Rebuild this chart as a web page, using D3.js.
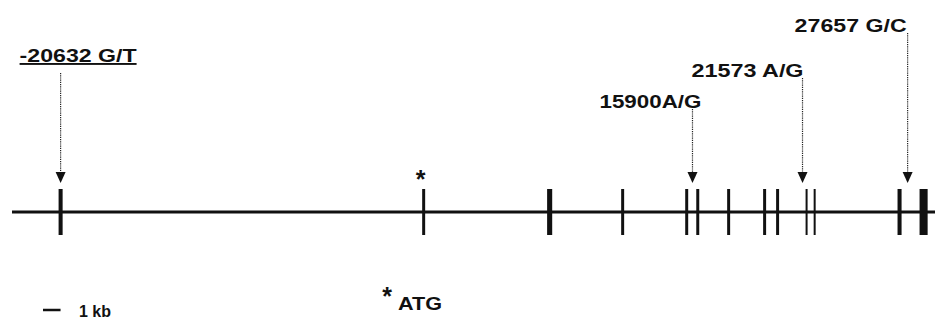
<!DOCTYPE html>
<html>
<head>
<meta charset="utf-8">
<script src="https://cdn.jsdelivr.net/npm/d3@7"></script>
<style>
  body { margin: 0; background: #fff; }
  svg { display: block; }
  text { font-family: "Liberation Sans", Arial, sans-serif; font-weight: bold; fill: #111; }
</style>
</head>
<body>
<svg id="gene" width="935" height="320"></svg>
<script>
// gene span in kb, relative to ATG
let geneSpan = [-23.4, 29.2];
// exon centres (kb) and widths (kb)
let exonPos = [-20.63, 0.06, 7.24, 11.40, 15.05, 15.68, 17.44, 19.49, 20.23, 21.88, 22.34, 27.18, 28.55];
let exonLen = [0.23, 0.17, 0.29, 0.17, 0.17, 0.17, 0.17, 0.17, 0.17, 0.11, 0.11, 0.23, 0.46];
// polymorphisms
let snpLabels = ["-20632 G/T", "15900A/G", "21573 A/G", "27657 G/C"];
let snpPos = [-20.63, 15.38, 21.65, 27.64];
let atgPos = 0.0;
let scaleBarKb = 1;

let width = 935;
let lineY = 212;

let x = d3.scaleLinear().domain(geneSpan).range([12, width]);

let svg = d3.select("#gene");

// label layout: baseline y, text length and offset of text start from arrow
let labelLayout = [
  { y: 62, len: 117, dx: -41, underline: true },
  { y: 108, len: 102, dx: -93 },
  { y: 77, len: 112, dx: -111 },
  { y: 32, len: 112, dx: -113 }
];

// backbone
svg.append("line")
  .attr("x1", x(geneSpan[0])).attr("x2", x(geneSpan[1]))
  .attr("y1", lineY).attr("y2", lineY)
  .attr("stroke", "#111").attr("stroke-width", 2.8);

// exons
svg.append("g").selectAll("rect")
  .data(exonPos)
  .join("rect")
  .attr("x", (d, i) => x(d - exonLen[i] / 2))
  .attr("width", (d, i) => Math.max(2, x(d + exonLen[i] / 2) - x(d - exonLen[i] / 2)))
  .attr("y", 189)
  .attr("height", 46)
  .attr("fill", "#111");

// snp arrows
let snp = svg.append("g").selectAll("g")
  .data(snpLabels)
  .join("g");

snp.append("line")
  .attr("x1", (d, i) => x(snpPos[i]))
  .attr("x2", (d, i) => x(snpPos[i]))
  .attr("y1", (d, i) => labelLayout[i].y + (i === 0 ? 11 : 1))
  .attr("y2", 172)
  .attr("stroke", "#222")
  .attr("stroke-width", 1.2)
  .attr("stroke-dasharray", "1.2,1");

snp.append("path")
  .attr("d", (d, i) => {
    let cx = x(snpPos[i]);
    return `M${cx - 5},172 L${cx + 5},172 L${cx},183 Z`;
  })
  .attr("fill", "#111");

snp.append("text")
  .attr("x", (d, i) => x(snpPos[i]) + labelLayout[i].dx)
  .attr("y", (d, i) => labelLayout[i].y)
  .attr("font-size", 19)
  .attr("textLength", (d, i) => labelLayout[i].len)
  .attr("lengthAdjust", "spacingAndGlyphs")
  .attr("text-decoration", (d, i) => labelLayout[i].underline ? "underline" : null)
  .text(d => d);

// ATG star
svg.append("text")
  .attr("x", x(atgPos) - 2)
  .attr("y", 188)
  .attr("text-anchor", "middle")
  .attr("font-size", 25)
  .text("*");

// legend: scale bar
svg.append("line")
  .attr("x1", 43).attr("x2", 43 + x(scaleBarKb) - x(0))
  .attr("y1", 310).attr("y2", 310)
  .attr("stroke", "#111").attr("stroke-width", 2.5);
svg.append("text")
  .attr("x", 79).attr("y", 317)
  .attr("font-size", 16)
  .text(scaleBarKb + " kb");

// legend: ATG
svg.append("text")
  .attr("x", 387).attr("y", 305)
  .attr("text-anchor", "middle")
  .attr("font-size", 25)
  .text("*");
svg.append("text")
  .attr("x", 398).attr("y", 310)
  .attr("font-size", 18)
  .attr("textLength", 44)
  .attr("lengthAdjust", "spacingAndGlyphs")
  .text("ATG");
</script>
</body>
</html>
